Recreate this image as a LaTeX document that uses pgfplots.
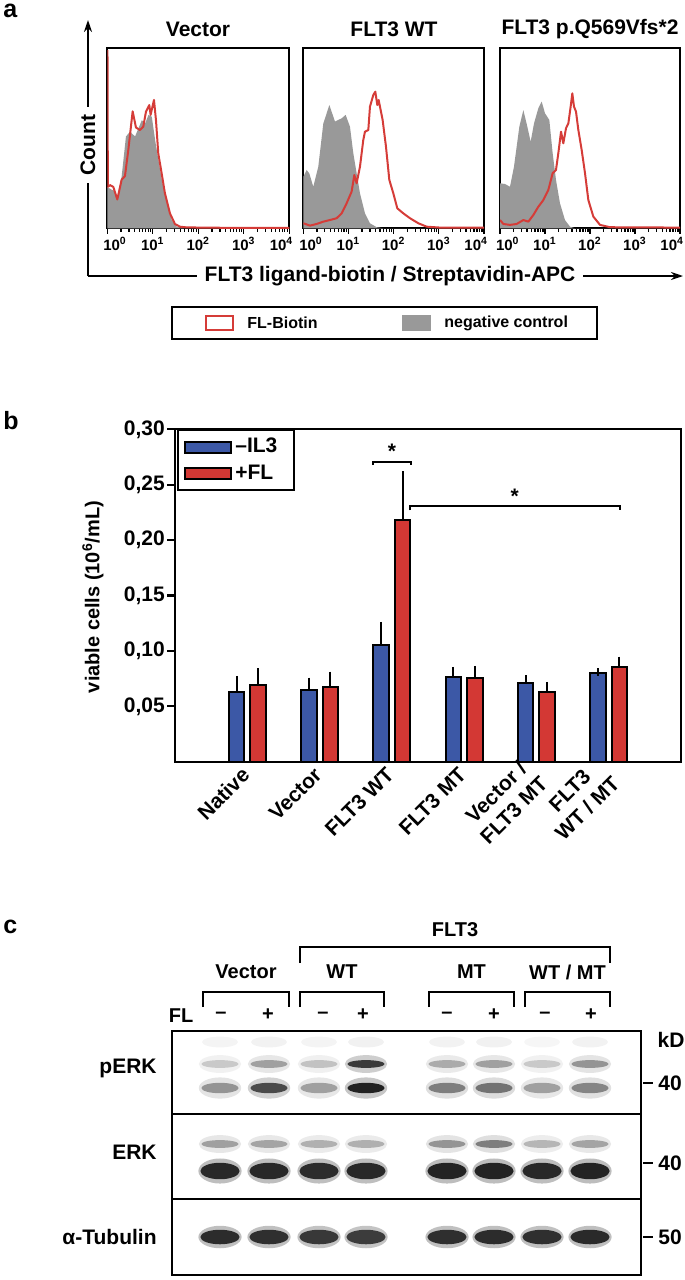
\documentclass[border=0pt]{standalone}
\usepackage{fontspec}
\setmainfont{Liberation Sans}
\usepackage{pgfplots}
\usepackage{pgfplotstable}
\pgfplotsset{compat=1.18}
\usetikzlibrary{arrows.meta}

\definecolor{histred}{RGB}{213,60,56}
\definecolor{histgray}{RGB}{153,153,153}
\definecolor{barblue}{RGB}{60,88,166}
\definecolor{barred}{RGB}{211,56,52}

\newcommand{\F}{\fontsize{10.5}{12.5}\selectfont\bfseries}
\newcommand{\Fc}{\fontsize{10}{12}\selectfont\bfseries}
\newcommand{\Fs}{\fontsize{8}{9.5}\selectfont\bfseries}
\newcommand{\Ft}{\fontsize{7.5}{9}\selectfont\bfseries}
\newcommand{\Fl}{\fontsize{12.5}{14}\selectfont\bfseries}

% ---------- panel a: histograms (x = log10 of fluorescence, v = % of box height)
\pgfplotstableread{
l v
0.004 99
0.012 23
0.059 24
0.132 23
0.22 16
0.315 27
0.388 29
0.462 43.5
0.557 65
0.63 56
0.718 54.6
0.791 56.5
0.85 64.8
0.923 68.5
0.952 63
1.026 71.3
1.07 60
1.12 41.7
1.194 30.6
1.267 19.4
1.377 8.3
1.487 2.4
1.597 0.9
1.744 0.5
2.5 0.3
4 0.3
}\vecfl
\pgfplotstableread{
l v
0 23
0.059 22
0.132 21
0.22 17.5
0.315 28.7
0.41 51
0.5 53.7
0.61 51
0.685 55.6
0.758 60
0.832 58.3
0.905 63
0.978 62
1.051 49
1.124 38
1.198 27
1.308 14
1.418 4.6
1.528 0.9
1.674 0
4 0
}\vecneg
\pgfplotstableread{
l v
0 28.7
0.074 32.4
0.133 30.5
0.221 23.1
0.332 34.3
0.443 58.3
0.517 63.9
0.576 68.5
0.627 64.8
0.701 59.3
0.775 60.2
0.849 61.1
0.937 63
1.033 56.5
1.107 41.7
1.181 30.6
1.255 19.4
1.365 8.3
1.476 2.8
1.624 0.6
1.771 0
4 0
}\wtneg
\pgfplotstableread{
l v
0 2.8
0.148 1.5
0.295 2.4
0.443 3.7
0.59 4.6
0.738 5.6
0.849 8.3
0.959 13.9
1.07 20.4
1.129 29.6
1.181 25
1.255 34.3
1.328 49.1
1.365 53.7
1.439 54.6
1.476 67.6
1.55 74.1
1.594 75.9
1.638 68.5
1.668 71.3
1.697 67.6
1.756 60.2
1.83 45.4
1.904 26.9
1.993 19.4
2.081 11.1
2.214 8.3
2.362 5.6
2.546 2.8
2.731 0.9
3.026 0.4
4 0.4
}\wtfl
\pgfplotstableread{
l v
0 25
0.111 24.6
0.222 23.1
0.311 34.3
0.43 56.5
0.519 65.7
0.607 56.5
0.681 48.1
0.756 58.3
0.852 66.7
0.926 70.4
1.0 63.9
1.096 60.2
1.17 41.7
1.244 26.9
1.333 13.9
1.444 4.6
1.556 0.9
1.667 0
4 0
}\mtneg
\pgfplotstableread{
l v
0 4.6
0.074 2.4
0.222 1.9
0.37 2.4
0.519 4.6
0.63 3.7
0.741 7.4
0.852 12
0.963 15.7
1.074 21.3
1.17 30.6
1.244 32.4
1.296 41.7
1.356 53.7
1.407 47.2
1.467 55.6
1.519 58.3
1.57 67.6
1.607 75
1.644 67.6
1.689 64.8
1.741 54.6
1.815 43.5
1.889 30.6
1.963 15.7
2.074 6.5
2.222 1.9
2.444 0.6
4 0.4
}\mtfl

% ---------- panel b: viable cells (10^6/mL), mean and upper error
\pgfplotstableread{
x m1 e1 m2 e2
0 0.0633 0.0106 0.0694 0.0114
1 0.0643 0.0081 0.0670 0.0108
2 0.1054 0.0174 0.2180 0.0406
3 0.0769 0.0051 0.0760 0.0069
4 0.0709 0.0036 0.0633 0.0052
5 0.0799 0.0009 0.0859 0.0054
}\bardata

% ---------- panel c: band intensities per lane (x = lane centre in px)
\pgfplotstableread{
x top perku perkl erku erkl tub
220 0.06 0.24 0.47 0.42 0.95 0.93
269 0.07 0.42 0.80 0.40 0.95 0.92
319 0.06 0.27 0.42 0.35 0.93 0.88
366 0.08 0.87 0.98 0.35 0.95 0.86
447 0.07 0.37 0.57 0.47 0.97 0.92
494 0.08 0.42 0.62 0.57 0.97 0.93
542 0.05 0.24 0.42 0.32 0.95 0.92
590 0.07 0.47 0.54 0.40 0.97 0.94
}\blot

\pgfplotsset{
  histax/.style={
    anchor=south west, scale only axis, height=90pt,
    xmin=0, xmax=4, ymin=0, ymax=100,
    axis line style={line width=0.85pt},
    ytick=\empty,
    xtick={0,1,2,3,4},
    xticklabels={\makebox[0pt][l]{\hspace*{-2pt}10\textsuperscript{0}},10\textsuperscript{1},10\textsuperscript{2},10\textsuperscript{3},\makebox[0pt][r]{10\textsuperscript{4}\hspace*{-2pt}}},
    minor xtick={0.301,0.477,0.602,0.699,0.778,0.845,0.903,0.954,1.301,1.477,1.602,1.699,1.778,1.845,1.903,1.954,2.301,2.477,2.602,2.699,2.778,2.845,2.903,2.954,3.301,3.477,3.602,3.699,3.778,3.845,3.903,3.954},
    xtick pos=bottom, tick align=outside,
    major tick length=2.8pt, minor tick length=1.6pt,
    tick style={black, line width=0.6pt},
    xticklabel style={font=\Ft, inner sep=1.5pt},
  },
  negfill/.style={fill=histgray, draw=none},
  flline/.style={histred, line width=1pt, line join=round},
  mylegend/.style={legend image code/.code={\draw[##1, line width=1pt] (0pt,-2.8pt) rectangle (23pt,2.8pt);}},
  band/.style n args={3}{scatter, only marks, mark=*, mark size=#1, point meta=explicit,
    scatter/use mapped color={draw=none, fill=mapped color},
    mark options={yscale=#2, fill opacity=#3, draw opacity=0}},
}

\begin{document}
\begin{tikzpicture}
\useasboundingbox (0pt,0pt) rectangle (342.5pt,-640pt);

% ================= panel a
\begin{axis}[histax, at={(53.65pt,-114.15pt)}, width=91pt]
\addplot[negfill] table[x=l,y=v] {\vecneg} \closedcycle;
\addplot[flline] table[x=l,y=v] {\vecfl};
\end{axis}
\begin{axis}[histax, at={(151.65pt,-114.15pt)}, width=90.35pt]
\addplot[negfill] table[x=l,y=v] {\wtneg} \closedcycle;
\addplot[flline] table[x=l,y=v] {\wtfl};
\end{axis}
\begin{axis}[histax, at={(250pt,-114.15pt)}, width=90pt]
\addplot[negfill] table[x=l,y=v] {\mtneg} \closedcycle;
\addplot[flline] table[x=l,y=v] {\mtfl};
\end{axis}

% ================= panel b
\begin{axis}[
  at={(87.5pt,-380.85pt)}, anchor=south west, scale only axis,
  width=253pt, height=166.2pt,
  xmin=-1, xmax=6, ymin=0, ymax=0.30,
  ybar=3pt, bar width=7.75pt,
  axis line style={line width=1.15pt},
  xtick={0,1,2,3,4,5},
  xticklabels={Native,Vector,FLT3 WT,FLT3 MT,{Vector /\\FLT3 MT},{FLT3\\WT / MT}},
  x tick style={draw=none},
  xticklabel style={font=\F, rotate=45, anchor=east, align=center, inner sep=1pt},
  ytick={0.05,0.1,0.15,0.2,0.25,0.3},
  yticklabels={{0,05},{0,10},{0,15},{0,20},{0,25},{0,30}},
  yticklabel style={font=\F, inner sep=1pt},
  tick align=outside, major tick length=3.9pt,
  y tick style={black, line width=1.1pt},
  xtick pos=bottom, ytick pos=left,
  error bars/y dir=plus, error bars/y explicit,
  error bars/error bar style={line width=1pt, black},
  error bars/error mark options={line width=1pt, black, mark size=1.95pt},
  legend style={at={(0,1)}, anchor=north west, xshift=1.2pt, draw=black, line width=1pt,
    font=\F, inner xsep=3pt, inner ysep=2.5pt, row sep=1.5pt, nodes={inner sep=1.5pt}},
  legend cell align=left,
]
\addplot[fill=barblue, draw=black, line width=1pt, mylegend] table[x=x, y=m1, y error=e1] {\bardata};
\addplot[fill=barred, draw=black, line width=1pt, mylegend] table[x=x, y=m2, y error=e2] {\bardata};
\legend{\textendash IL3\hspace*{4pt}, +FL}
\draw[line width=1pt] (axis cs:1.74,0.2676) -- (axis cs:1.74,0.2705) -- (axis cs:2.265,0.2705) -- (axis cs:2.265,0.2676);
\node[font=\F] at (axis cs:2.0,0.2800) {*};
\draw[line width=1pt] (axis cs:2.25,0.2268) -- (axis cs:2.25,0.2305) -- (axis cs:5.16,0.2305) -- (axis cs:5.16,0.2268);
\node[font=\F] at (axis cs:3.7,0.2400) {*};
\end{axis}

% ================= panel c (blot bands drawn from the intensity table)
\begin{axis}[
  at={(86pt,-637.5pt)}, anchor=south west, scale only axis,
  width=234.5pt, height=122pt,
  xmin=172, xmax=641, ymin=1031, ymax=1275, y dir=reverse,
  axis line style={line width=1.2pt},
  xtick=\empty, ytick=\empty,
  colormap={blot}{rgb255(0cm)=(255,255,255); rgb255(1cm)=(30,30,30)},
  point meta min=0, point meta max=1,
]
% faint top band in pERK (y = 1042 px)
\addplot[band={9pt}{0.3}{0.8}] table[x=x, y expr=1042, meta=top] {\blot};
% pERK upper (1064) and lower (1088)
\addplot[band={10.6pt}{0.42}{0.25}] table[x=x, y expr=1064, meta=perku] {\blot};
\addplot[band={9.3pt}{0.21}{1}] table[x=x, y expr=1064, meta=perku] {\blot};
\addplot[band={10.6pt}{0.5}{0.25}] table[x=x, y expr=1088, meta=perkl] {\blot};
\addplot[band={9.3pt}{0.28}{1}] table[x=x, y expr=1088, meta=perkl] {\blot};
% ERK upper (1144) and lower (1171)
\addplot[band={10.6pt}{0.42}{0.25}] table[x=x, y expr=1144, meta=erku] {\blot};
\addplot[band={9.3pt}{0.21}{1}] table[x=x, y expr=1144, meta=erku] {\blot};
\addplot[band={10.8pt}{0.58}{0.3}] table[x=x, y expr=1171, meta=erkl] {\blot};
\addplot[band={9.8pt}{0.42}{1}] table[x=x, y expr=1171, meta=erkl] {\blot};
% alpha-Tubulin (1237)
\addplot[band={10.8pt}{0.52}{0.3}] table[x=x, y expr=1237, meta=tub] {\blot};
\addplot[band={9.8pt}{0.37}{1}] table[x=x, y expr=1237, meta=tub] {\blot};
\draw[line width=1.1pt] (axis cs:172,1114) -- (axis cs:641,1114);
\draw[line width=1.1pt] (axis cs:172,1199) -- (axis cs:641,1199);
\end{axis}

% ================= annotations in pixel coordinates
\begin{scope}[x=0.5pt,y=-0.5pt]
% panel a
\node[anchor=north west, inner sep=0pt, font=\Fl] at (3,4) {a};
\node[font=\F] at (198,29) {Vector};
\node[font=\F] at (394,29) {FLT3 WT};
\node[font=\F] at (590,29) {FLT3 p.Q569Vfs*2};
\draw[line width=0.9pt, -{Stealth[length=6pt,width=4pt]}] (88,276) -- (88,20);
\draw[line width=0.9pt, -{Stealth[length=6pt,width=4pt]}] (88,276) -- (683,276);
\node[font=\F, fill=white, rotate=90, inner xsep=4pt, inner ysep=1pt] at (88,145) {Count};
\node[font=\F, fill=white, inner xsep=4pt, inner ysep=1pt] at (390,276) {FLT3 ligand-biotin / Streptavidin-APC};
\draw[line width=0.9pt] (172,307) rectangle (597,339);
\draw[histred, line width=0.9pt] (206,316) rectangle (233,330);
\node[anchor=west, font=\Fs, inner sep=0pt] at (247,323) {FL-Biotin};
\fill[histgray] (402,315) rectangle (431,331);
\node[anchor=west, font=\Fs, inner sep=0pt] at (444,323) {negative control};
% panel b
\node[anchor=north west, inner sep=0pt, font=\Fl] at (3,411) {b};
\node[font=\Fc, rotate=90] at (93,597) {viable cells (10\textsuperscript{6}/mL)};
% panel c
\node[anchor=north west, inner sep=0pt, font=\Fl] at (3,920) {c};
\node[font=\Fc] at (455,930) {FLT3};
\draw[line width=1.2pt] (300,963) -- (300,947) -- (610,947) -- (610,963);
\node[font=\Fc] at (246,972) {Vector};
\node[font=\Fc] at (342,972) {WT};
\node[font=\Fc] at (471.5,972) {MT};
\node[font=\Fc] at (567.5,972) {WT / MT};
\draw[line width=1.2pt] (203,1007) -- (203,992) -- (289,992) -- (289,1007);
\draw[line width=1.2pt] (300,1007) -- (300,992) -- (384,992) -- (384,1007);
\draw[line width=1.2pt] (429,1007) -- (429,992) -- (514,992) -- (514,1007);
\draw[line width=1.2pt] (525,1007) -- (525,992) -- (610,992) -- (610,1007);
\node[font=\Fc] at (181,1016) {FL};
\foreach \xx/\ss in {221/\textendash,268/+,323/\textendash,363/+,447/\textendash,494/+,545/\textendash,591/+}
  \node[font=\Fc] at (\xx,1015) {\ss};
\node[anchor=east, font=\F, inner sep=0pt] at (157,1068) {pERK};
\node[anchor=east, font=\F, inner sep=0pt] at (157,1152) {ERK};
\node[anchor=east, font=\F, inner sep=0pt] at (157,1237) {α-Tubulin};
\node[font=\F, inner sep=0pt] at (671,1040) {kD};
\draw[line width=1.2pt] (643,1083) -- (653,1083);
\node[anchor=west, font=\F, inner sep=0pt] at (658,1083) {40};
\draw[line width=1.2pt] (643,1163) -- (653,1163);
\node[anchor=west, font=\F, inner sep=0pt] at (658,1163) {40};
\draw[line width=1.2pt] (643,1237) -- (653,1237);
\node[anchor=west, font=\F, inner sep=0pt] at (658,1237) {50};
\end{scope}
\end{tikzpicture}
\end{document}
